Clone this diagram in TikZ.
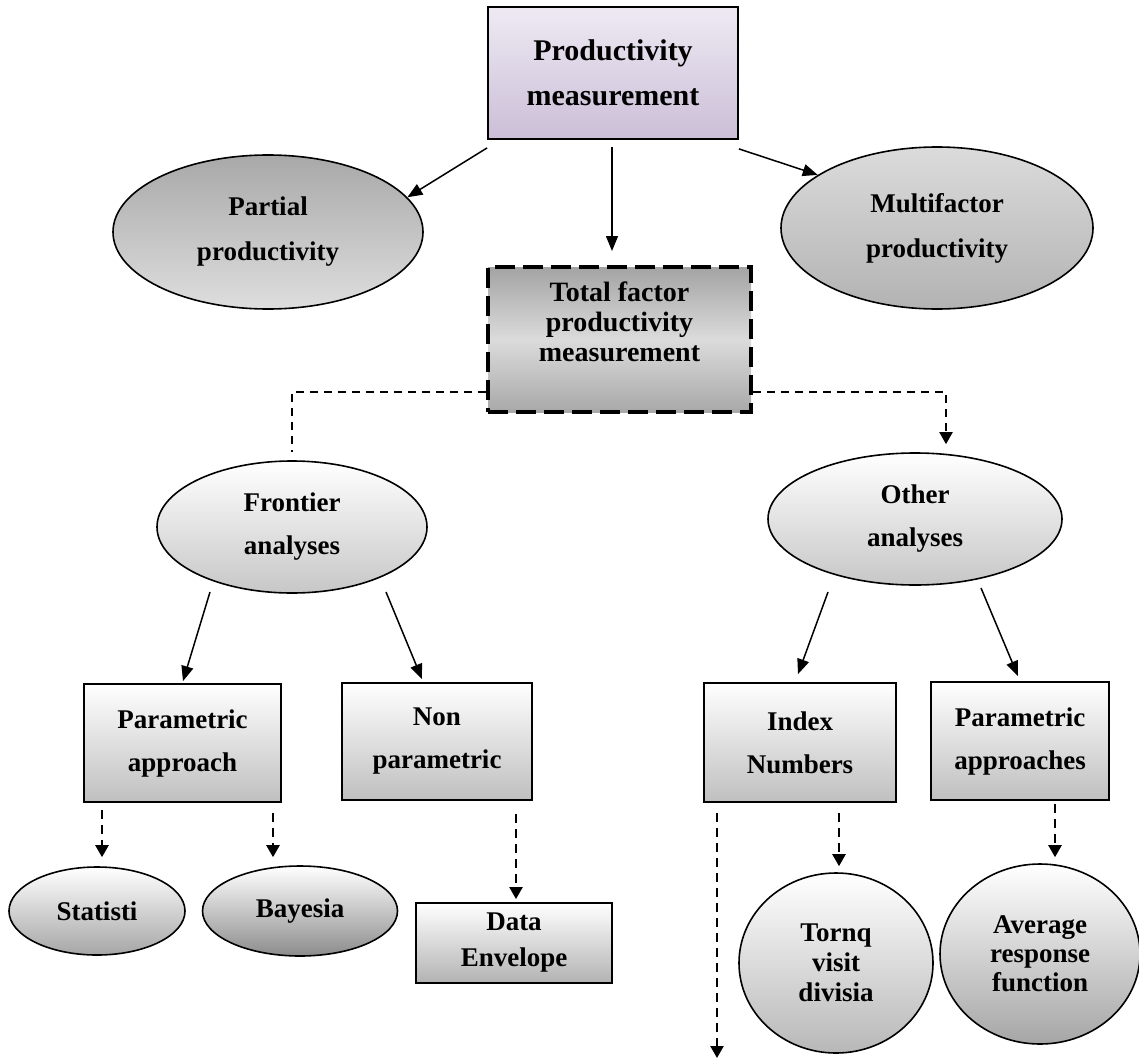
\documentclass[tikz,border=0pt]{standalone}
\usepackage{fontspec}
\setmainfont{Liberation Serif}
\usetikzlibrary{shapes.geometric,arrows.meta,calc}
\definecolor{lavtop}{RGB}{238,234,243}
\definecolor{lavbot}{RGB}{203,190,215}
\begin{document}
\begin{tikzpicture}[x=1pt,y=-1pt,
  txt/.style={align=center,font=\fontsize{27}{43}\selectfont\bfseries},
  boxnode/.style={draw,line width=1.8pt,rectangle,inner sep=0pt,txt,
    top color=white,bottom color=black!25},
  ellnode/.style={draw,line width=1.6pt,ellipse,inner sep=0pt,txt},
  arr/.style={line width=1.5pt,-{Triangle[length=15pt,width=12pt]}},
  darr/.style={line width=2.3pt,dash pattern=on 9pt off 6pt,
    -{Triangle[length=12pt,width=13pt]}},
  dline/.style={line width=2pt,dash pattern=on 8pt off 6pt}
]
\useasboundingbox (0,0) rectangle (1139,1062);

% top level
\node[boxnode,minimum width=250pt,minimum height=132pt,
  top color=lavtop,bottom color=lavbot,
  font=\fontsize{30}{45}\selectfont\bfseries] (prod) at (613,73)
  {Productivity\\measurement};

\node[ellnode,minimum width=310pt,minimum height=154pt,
  top color=black!34,bottom color=black!13,
  font=\fontsize{27}{45}\selectfont\bfseries] (partial) at (268,232)
  {Partial\\productivity};

\node[ellnode,minimum width=312pt,minimum height=162pt,
  top color=black!14,bottom color=black!30,
  font=\fontsize{27}{45}\selectfont\bfseries] (multi) at (937,228)
  {Multifactor\\productivity};

% total factor productivity box (dashed border)
\node[draw,rectangle,inner sep=0pt,line width=4pt,dash pattern=on 20pt off 8pt,
  minimum width=263pt,minimum height=145pt,
  top color=black!36,bottom color=black!34,middle color=black!14] (tfp) at (619.5,339.5) {};
\node[txt,font=\fontsize{28}{30}\selectfont\bfseries] (tfpT) at (619.5,322)
  {Total factor\\productivity\\measurement};

% second level
\node[ellnode,minimum width=270pt,minimum height=132pt,
  top color=white,bottom color=black!22] (front) at (292,527)
  {Frontier\\analyses};
\node[ellnode,minimum width=294pt,minimum height=132pt,
  top color=white,bottom color=black!22] (other) at (915,519)
  {Other\\analyses};

% third level boxes
\node[boxnode,minimum width=197pt,minimum height=118pt] (parA) at (182.5,743)
  {Parametric\\approach};
\node[boxnode,minimum width=190pt,minimum height=117pt] (nonpar) at (437,741.5)
  {Non\\parametric};
\node[boxnode,minimum width=192pt,minimum height=119pt] (index) at (800,742.5)
  {Index\\Numbers};
\node[boxnode,minimum width=178pt,minimum height=118pt] (parAs) at (1020,741)
  {Parametric\\approaches};

% bottom level
\node[ellnode,minimum width=176pt,minimum height=88pt,
  top color=white,bottom color=black!35] (stat) at (97,911) {Statisti};
\node[ellnode,minimum width=195pt,minimum height=90pt,
  top color=white,bottom color=black!45] (bayes) at (300,911) {Bayesia};
\node[boxnode,minimum width=196pt,minimum height=80pt,
  bottom color=black!30,font=\fontsize{27}{36}\selectfont\bfseries] (dea) at (514,943)
  {Data\\Envelope};
\node[ellnode,minimum width=194pt,minimum height=180pt,
  top color=white,bottom color=black!28,
  font=\fontsize{27}{30}\selectfont\bfseries] (torn) at (836,963)
  {Tornq\\visit\\divisia};
\node[ellnode,minimum width=200pt,minimum height=180pt,
  top color=white,bottom color=black!35,
  font=\fontsize{27}{29}\selectfont\bfseries] (avg) at (1040,954)
  {Average\\response\\function};
\coordinate (idxEnd) at (717,1058);

% solid connectors
\draw[arr] ($(prod.south west)+(0,8)$) -- (partial.14);
\draw[arr] ($(prod.south)+(-1,7)$) -- ($(tfp.north)+(-7.5,-14)$);
\draw[arr] ($(prod.south east)+(0,9)$) -- (multi.156);
\draw[arr] ($(front.center)+(-82,65)$) -- ($(parA.north)+(0.5,-2)$);
\draw[arr] ($(front.center)+(94,65)$) -- ($(nonpar.north)+(-15,-3)$);
\draw[arr] ($(other.center)+(-87,73)$) -- ($(index.north)+(-2,-8)$);
\draw[arr] ($(other.center)+(66,69)$) -- ($(parAs.north)+(-2,-5)$);

% dashed connectors from the total factor box
\draw[dline] ($(tfp.south west)+(0,-22)$) -| ($(front.north)+(0,-8)$);
\draw[dline,-{Triangle[length=12pt,width=13pt]}]
  ($(tfp.south east)+(0,-22)$) -| ($(other.north)+(31,-8)$);

% dashed arrows to the bottom level
\draw[darr] ($(parA.south)+(-80.5,7)$) -- ($(stat.north)+(5,-9)$);
\draw[darr] ($(parA.south)+(90.5,10)$) -- ($(bayes.north)+(-27,-8)$);
\draw[darr] ($(nonpar.south)+(79,13)$) -- ($(dea.north)+(2,-3)$);
\draw[darr] ($(index.south)+(-83,10)$) -- (idxEnd);
\draw[darr] ($(index.south)+(39,10)$) -- ($(torn.north)+(3,-6)$);
\draw[darr] ($(parAs.south)+(35,3)$) -- ($(avg.north)+(15,-6)$);
\end{tikzpicture}
\end{document}
